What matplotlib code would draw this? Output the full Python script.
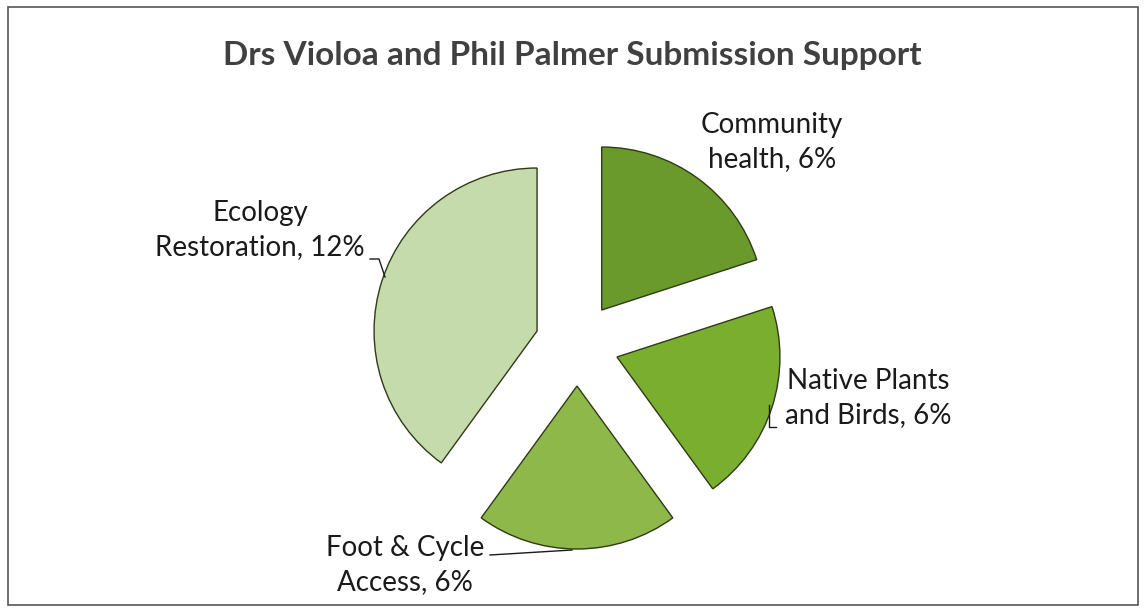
import matplotlib.pyplot as plt
from matplotlib.patches import Rectangle

# data
categories = ["Community\nhealth", "Native Plants\nand Birds", "Foot & Cycle\nAccess", "Ecology\nRestoration"]
shares = [6, 6, 6, 12]
colors = ["#6a9a2c", "#7aae2e", "#8fb84a", "#c6dbab"]

plt.rcParams['font.family'] = ['Lato', 'DejaVu Sans']

fig = plt.figure(figsize=(11.44, 6.11), dpi=100)
ax = fig.add_axes([0, 0, 1, 1])

# frame of the chart area
ax.add_patch(Rectangle((8, 6), 1130, 598, fill=False, edgecolor="#555555", lw=1.2))

# explode is in data units here (pixels)
wedges, _ = ax.pie(shares, colors=colors, startangle=90, counterclock=False,
                   center=(577, 267), radius=163, explode=[42] * 4,
                   wedgeprops=dict(edgecolor="#2f3a17", linewidth=1.0),
                   frame=True)
ax.set_xlim(0, 1144)
ax.set_ylim(0, 611)
ax.set_aspect('equal')
ax.axis('off')

ax.text(572, 556, "Drs Violoa and Phil Palmer Submission Support",
        ha='center', va='center', fontsize=24, fontweight='bold', color="#404040")

lab_kw = dict(fontsize=20, color="#1a1a1a", linespacing=1.35)
ax.text(772, 469, "Community\nhealth, 6%", ha='center', va='center', **lab_kw)
ax.text(260, 381, "Ecology\nRestoration, 12%", ha='center', va='center', **lab_kw)
ax.text(868, 213, "Native Plants\nand Birds, 6%", ha='center', va='center', **lab_kw)
ax.text(405, 46, "Foot & Cycle\nAccess, 6%", ha='center', va='center', **lab_kw)

# leader lines
ax.plot([370, 379, 385], [352, 352, 334], color="#1a1a1a", lw=1)
ax.plot([769, 769, 776], [206, 184, 184], color="#1a1a1a", lw=1)
ax.plot([490, 572], [56, 61], color="#1a1a1a", lw=1)

fig.savefig("out.png", dpi=100)
